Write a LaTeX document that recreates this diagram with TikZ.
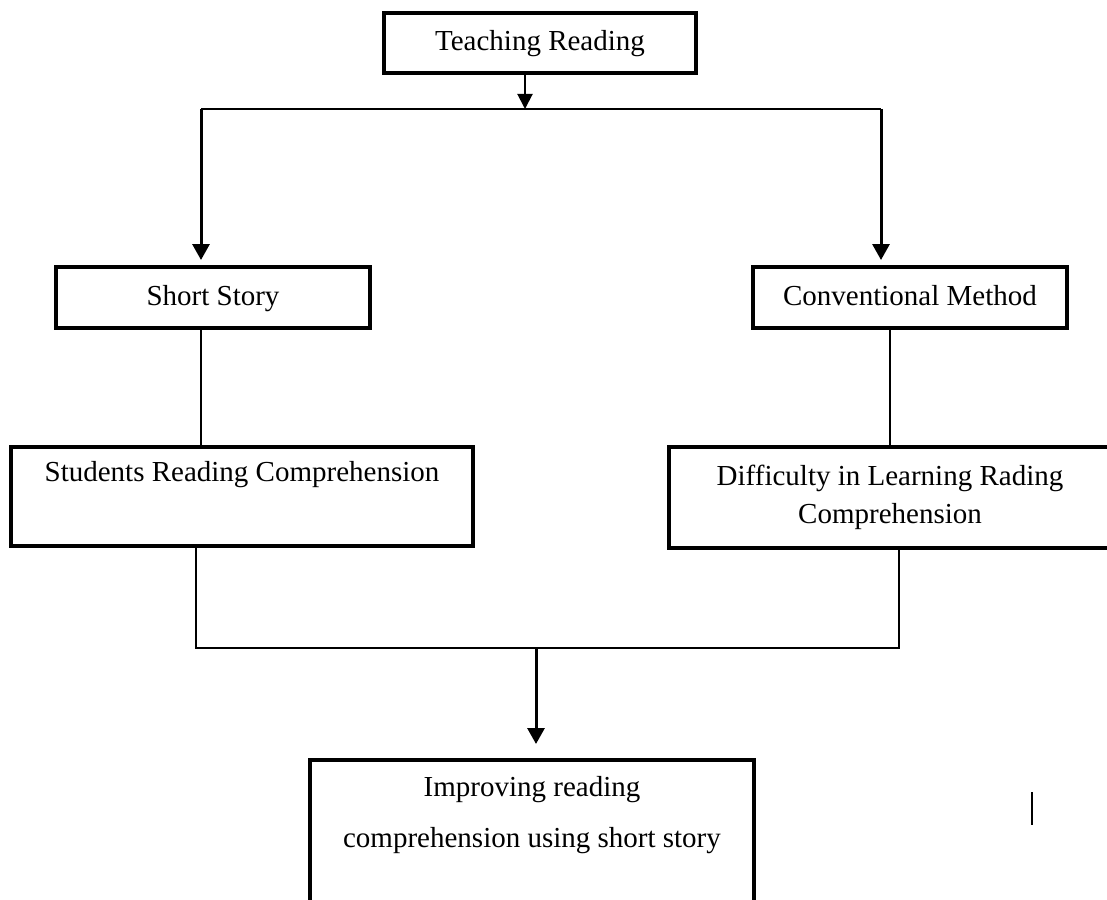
\documentclass[tikz,border=0pt]{standalone}
\usepackage{fontspec}
\setmainfont{Liberation Serif}
\usetikzlibrary{arrows.meta,positioning}

\begin{document}
\begin{tikzpicture}[x=0.5pt,y=-0.5pt,
  box/.style={draw,line width=2pt,align=center,inner sep=0pt,font=\fontsize{14.5}{19}\selectfont},
  link/.style={line width=0.7pt},
  flow/.style={-{Triangle[length=8pt,width=8.5pt]},line width=1.5pt}]
\useasboundingbox (0,0) rectangle (1107,899);
\clip (0,0) rectangle (1107,899);
% boxes
\node[box,minimum width=156pt,minimum height=30pt] (teach) at (540,43) {\strut Teaching Reading};
\node[box,minimum width=157pt,minimum height=30.5pt] (story) at (213,297.5) {\strut Short Story};
\node[box,minimum width=157pt,minimum height=30.5pt] (conv) at (910,297.5) {\strut Conventional Method};
\node[box,minimum width=231pt,minimum height=49.5pt] (students) at (242,496.5) {Students Reading Comprehension\\\strut};
\node[box,minimum width=221pt,minimum height=50.5pt] (difficulty) at (890,497.5) {Difficulty in Learning Rading\\Comprehension};
\node[box,minimum width=222pt,minimum height=85pt,font=\fontsize{14.5}{25.5}\selectfont] (result) at (532,845) {Improving reading\\comprehension using short story\\\strut};
% junctions
\coordinate (tj) at (525,109);
\coordinate (tl) at (201,109);
\coordinate (tr) at (881,109);
\coordinate (bl) at (196,648);
\coordinate (br) at (899,648);
\coordinate (bj) at (536,648);
% top split
\draw[-{Triangle[length=7.5pt,width=7.5pt]},line width=1pt] (teach.south -| tj) -- (tj);
\draw[line width=1pt] (tl) -- (tr);
\draw[flow,shorten >=2.5pt] (tl) -- (tl |- story.north);
\draw[flow,shorten >=2.5pt] (tr) -- (tr |- conv.north);
% middle links
\draw[link] (story.south -| tl) -- (students.north -| tl);
\draw[link] (conv.south -| difficulty.north) -- (difficulty.north);
% bottom join
\draw[link] (students.south -| bl) -- (bl) -- (br) -- (difficulty.south -| br);
\draw[flow,shorten >=7pt] (bj) -- (result.north -| bj);
\draw[line width=0.8pt] (1032,792) -- (1032,825);
\end{tikzpicture}
\end{document}
